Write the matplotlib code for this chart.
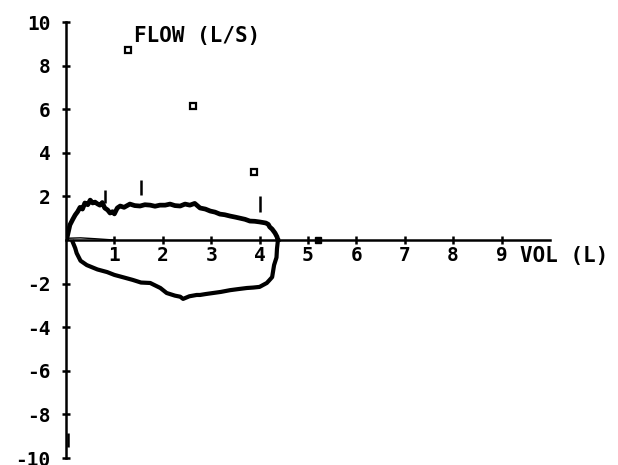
#!/usr/bin/env python3
"""Flow-volume loop (spirometry printout style)."""

import matplotlib
matplotlib.use("Agg")
import matplotlib.pyplot as plt

matplotlib.rcParams.update(
    {
        "font.family": "DejaVu Sans Mono",
        "font.weight": "bold",
        "font.size": 14,
    }
)

# expiratory limb (volume L, flow L/s)
exp_vol = [0.02, 0.08, 0.14, 0.19, 0.24, 0.29, 0.34, 0.39, 0.45, 0.5, 0.55, 0.6,
           0.65, 0.7, 0.75, 0.8, 0.86, 0.91, 0.96, 1.0, 1.06, 1.12, 1.2, 1.32,
           1.42, 1.53, 1.63, 1.74, 1.84, 1.94, 2.05, 2.15, 2.25, 2.36, 2.46,
           2.56, 2.66, 2.77, 2.88, 2.98, 3.08, 3.18, 3.28, 3.39, 3.5, 3.6, 3.7,
           3.8, 3.9, 4.0, 4.08, 4.13, 4.18, 4.21, 4.26, 4.32, 4.36, 4.38]
exp_flow = [0.1, 0.69, 0.95, 1.15, 1.3, 1.5, 1.42, 1.7, 1.62, 1.83, 1.7, 1.74,
            1.66, 1.6, 1.72, 1.47, 1.38, 1.24, 1.3, 1.2, 1.47, 1.56, 1.5, 1.65,
            1.58, 1.56, 1.62, 1.6, 1.55, 1.6, 1.6, 1.65, 1.58, 1.56, 1.65, 1.6,
            1.68, 1.47, 1.42, 1.33, 1.28, 1.19, 1.16, 1.1, 1.05, 1.0, 0.95,
            0.87, 0.86, 0.83, 0.8, 0.78, 0.72, 0.6, 0.5, 0.32, 0.15, 0.0]

# inspiratory limb
insp_vol = [4.38, 4.36, 4.35, 4.3, 4.26, 4.2, 4.15, 4.0, 3.87, 3.74, 3.56, 3.39,
            3.2, 3.04, 2.88, 2.77, 2.7, 2.55, 2.42, 2.36, 2.25, 2.08, 1.95,
            1.74, 1.55, 1.38, 1.2, 1.0, 0.85, 0.65, 0.43, 0.3, 0.22, 0.19, 0.14]
insp_flow = [0.0, -0.4, -0.8, -1.15, -1.7, -1.85, -1.97, -2.15, -2.18, -2.2,
             -2.25, -2.3, -2.38, -2.43, -2.48, -2.52, -2.52, -2.58, -2.7, -2.6,
             -2.55, -2.43, -2.2, -1.97, -1.95, -1.83, -1.72, -1.6, -1.47, -1.35,
             -1.15, -0.95, -0.6, -0.37, -0.1]

# baseline trace near origin
base_vol = [0.0, 0.3, 0.6, 1.0]
base_flow = [0.08, 0.1, 0.06, 0.0]

# predicted points (open squares) and measured point on axis
pred_vol = [1.28, 2.62, 3.88]
pred_flow = [8.7, 6.15, 3.1]
meas_vol = [5.2]
meas_flow = [0.0]

# small vertical markers
bar_vol = [0.8, 1.55, 4.0, 0.04]
bar_lo = [1.7, 2.05, 1.3, -9.5]
bar_hi = [2.3, 2.75, 2.0, -8.85]

x_ticks = [1, 2, 3, 4, 5, 6, 7, 8, 9]
y_ticks = [-10, -8, -6, -4, -2, 2, 4, 6, 8, 10]

fig = plt.figure(figsize=(6.18, 4.65), dpi=100)
ax = fig.add_axes([0.1068, 0.015, 0.783, 0.9376])

ax.plot(exp_vol, exp_flow, color="black", linewidth=3.4, solid_joinstyle="round")
ax.plot(insp_vol, insp_flow, color="black", linewidth=3.0, solid_joinstyle="round")
ax.plot(base_vol, base_flow, color="black", linewidth=1.0)
ax.plot(pred_vol, pred_flow, linestyle="none", marker="s", markersize=4.5,
        markerfacecolor="white", markeredgecolor="black", markeredgewidth=1.6)
ax.plot(meas_vol, meas_flow, linestyle="none", marker="s", markersize=5,
        color="black")
ax.vlines(bar_vol, bar_lo, bar_hi, color="black", linewidth=1.8)

ax.set_xlim(0, 10)
ax.set_ylim(-10, 10)

for side in ["top", "right"]:
    ax.spines[side].set_visible(False)
ax.spines["left"].set_position(("data", 0))
ax.spines["bottom"].set_position(("data", 0))
ax.spines["left"].set_linewidth(1.8)
ax.spines["bottom"].set_linewidth(1.8)

ax.set_xticks(x_ticks)
ax.set_xticklabels([str(t) for t in x_ticks])
ax.set_yticks(y_ticks)
ax.set_yticklabels([str(t) for t in y_ticks])
ax.tick_params(axis="both", direction="inout", length=6, width=1.8,
               labelsize=14)
ax.tick_params(axis="x", pad=1)
ax.tick_params(axis="y", pad=8)

ax.text(1.4, 9.35, "FLOW (L/S)", ha="left", va="center", fontsize=15,
        fontweight="bold")
ax.text(9.38, -0.75, "VOL (L)", ha="left", va="center", fontsize=15,
        fontweight="bold", clip_on=False)

fig.savefig("out.png", dpi=100)
